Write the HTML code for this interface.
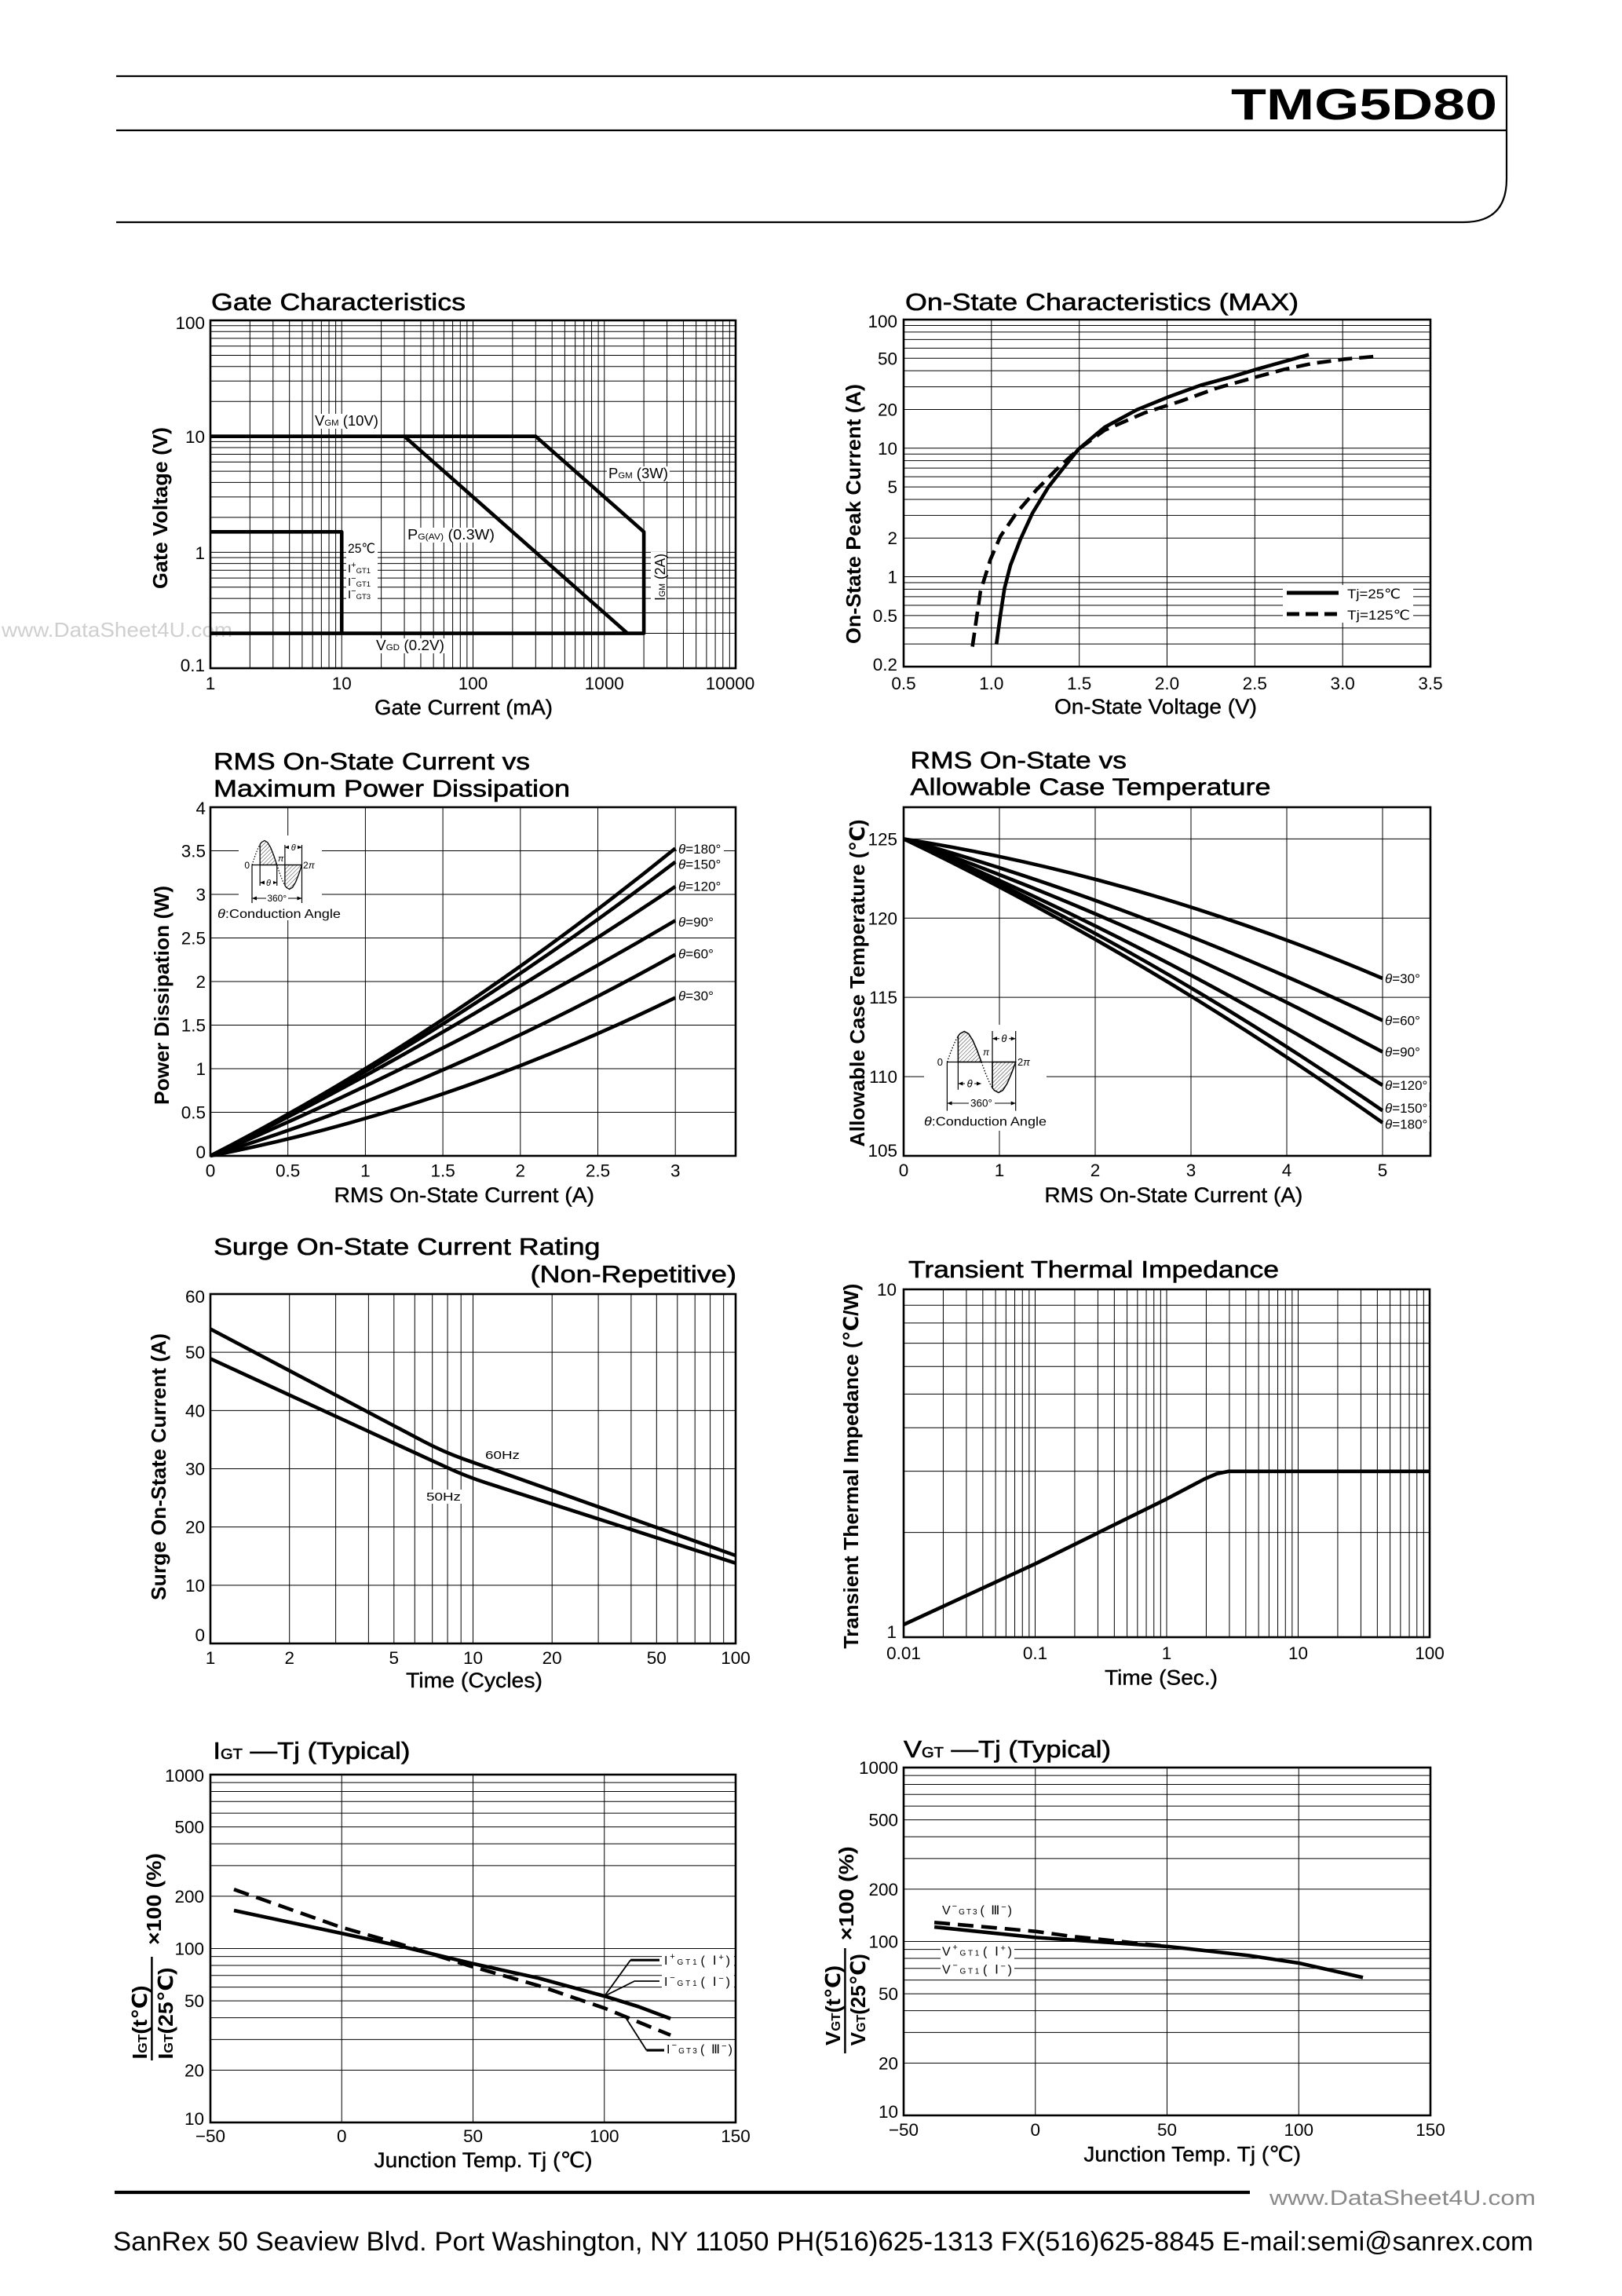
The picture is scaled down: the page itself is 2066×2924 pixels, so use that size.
<!DOCTYPE html>
<html><head><meta charset="utf-8"><style>
html,body{margin:0;padding:0;background:#fff}
svg{display:block}
text{font-family:"Liberation Sans","DejaVu Sans","Noto Sans CJK JP",sans-serif;fill:#000}
.tk{font-size:22.5px}
.ttl{font-size:31px;stroke:#000;stroke-width:.6}
.ax{font-size:27px;stroke:#000;stroke-width:.4}
.ay{font-size:26px;font-weight:bold}
.lb{font-size:17px}
.sm{font-size:15px}
.g{stroke:#000;stroke-width:1;fill:none}
.bx{stroke:#000;stroke-width:2.6;fill:none}
.c{stroke:#000;stroke-width:4.6;fill:none;stroke-linejoin:round}
.t1{stroke:#000;stroke-width:1.2;fill:none}
.wb{fill:#fff}
</style></head><body>
<svg width="2066" height="2924" viewBox="0 0 2066 2924" xmlns="http://www.w3.org/2000/svg">
<defs>
<pattern id="hatch" patternUnits="userSpaceOnUse" width="3.5" height="3.5" patternTransform="rotate(45)"><line x1="0" y1="0" x2="0" y2="3.5" stroke="#000" stroke-width="0.8"/></pattern>
<marker id="ar" markerWidth="6" markerHeight="6" refX="5.5" refY="3" orient="auto-start-reverse" markerUnits="userSpaceOnUse"><path d="M0,0.5 L6,3 L0,5.5 z" fill="#000"/></marker>
</defs>
<rect width="2066" height="2924" fill="#fff"/>

<!-- HEADER -->
<path d="M148 97H1919V228Q1919 283 1864 283H148" fill="none" stroke="#000" stroke-width="2.2"/>
<path d="M148 166H1919" stroke="#000" stroke-width="2.2"/>
<text x="1568" y="152" font-size="56" font-weight="bold" textLength="339" lengthAdjust="spacingAndGlyphs">TMG5D80</text>

<!-- left watermark -->
<text x="2" y="811" font-size="26" fill="#cfcfcf" style="fill:#cfcfcf" textLength="294" lengthAdjust="spacingAndGlyphs">www.DataSheet4U.com</text>

<!-- ================= CHART 1: GATE ================= -->
<text class="ttl" x="269" y="395" textLength="324" lengthAdjust="spacingAndGlyphs">Gate Characteristics</text>
<path class="g" d="M318.35 408V851M347.8 408V851M368.69 408V851M384.9 408V851M398.15 408V851M409.34 408V851M419.04 408V851M427.6 408V851M435.25 408V851M485.6 408V851M515.05 408V851M535.94 408V851M552.15 408V851M565.4 408V851M576.59 408V851M586.29 408V851M594.85 408V851M602.5 408V851M652.85 408V851M682.3 408V851M703.19 408V851M719.4 408V851M732.65 408V851M743.84 408V851M753.54 408V851M762.1 408V851M769.75 408V851M820.1 408V851M849.55 408V851M870.44 408V851M886.65 408V851M899.9 408V851M911.09 408V851M920.79 408V851M929.35 408V851"/>
<path class="g" d="M268 806.55H937M268 780.55H937M268 762.1H937M268 747.79H937M268 736.09H937M268 726.21H937M268 717.64H937M268 710.09H937M268 703.33H937M268 658.88H937M268 632.88H937M268 614.43H937M268 600.12H937M268 588.43H937M268 578.54H937M268 569.98H937M268 562.42H937M268 555.67H937M268 511.22H937M268 485.21H937M268 466.76H937M268 452.45H937M268 440.76H937M268 430.87H937M268 422.31H937M268 414.76H937"/>
<rect class="bx" x="268" y="408" width="669" height="443"/>
<path class="c" stroke-width="5" d="M268 555.67H682.3L820.1 677.33V806.55H268"/>
<path class="c" stroke-width="5" d="M515.05 555.67L799.2 806.55"/>
<path class="c" stroke-width="5" d="M268 677.33H435.25V806.55"/>
<rect class="wb" x="399" y="527" width="86" height="19"/>
<text x="401" y="542" font-size="18" textLength="81" lengthAdjust="spacingAndGlyphs">V<tspan font-size="11">GM</tspan> (10V)</text>
<rect class="wb" x="773" y="594" width="80" height="19"/>
<text x="775" y="609" font-size="18" textLength="76" lengthAdjust="spacingAndGlyphs">P<tspan font-size="11">GM</tspan> (3W)</text>
<rect class="wb" x="517" y="672" width="115" height="19"/>
<text x="519" y="687" font-size="18" textLength="111" lengthAdjust="spacingAndGlyphs">P<tspan font-size="11">G(AV)</tspan> (0.3W)</text>
<rect class="wb" x="441" y="688" width="40" height="79"/>
<text x="443" y="704" font-size="17" textLength="35" lengthAdjust="spacingAndGlyphs">25℃</text>
<text x="443" y="729" font-size="15">I<tspan font-size="11" dy="-6">+</tspan><tspan font-size="9.5" dy="7">GT1</tspan></text>
<text x="443" y="746" font-size="15">I<tspan font-size="11" dy="-6">−</tspan><tspan font-size="9.5" dy="7">GT1</tspan></text>
<text x="443" y="762" font-size="15">I<tspan font-size="11" dy="-6">−</tspan><tspan font-size="9.5" dy="7">GT3</tspan></text>
<rect class="wb" x="829" y="703" width="20" height="64"/>
<text transform="translate(847,765) rotate(-90)" font-size="18" textLength="60" lengthAdjust="spacingAndGlyphs">I<tspan font-size="11">GM</tspan> (2A)</text>
<rect class="wb" x="477" y="813" width="91" height="19"/>
<text x="479" y="828" font-size="18" textLength="87" lengthAdjust="spacingAndGlyphs">V<tspan font-size="11">GD</tspan> (0.2V)</text>
<g class="tk" text-anchor="end"><text x="261" y="419">100</text><text x="261" y="564">10</text><text x="261" y="712">1</text><text x="261" y="855">0.1</text></g>
<g class="tk" text-anchor="middle"><text x="268" y="878">1</text><text x="435.25" y="878">10</text><text x="602.5" y="878">100</text><text x="769.75" y="878">1000</text><text x="930" y="878">10000</text></g>
<text class="ax" x="477" y="910" textLength="227" lengthAdjust="spacingAndGlyphs">Gate Current (mA)</text>
<text class="ay" transform="translate(213,750) rotate(-90)" textLength="206" lengthAdjust="spacingAndGlyphs">Gate Voltage (V)</text>

<!-- ================= CHART 2: ON-STATE ================= -->
<text class="ttl" x="1153" y="395" textLength="501" lengthAdjust="spacingAndGlyphs">On-State Characteristics (MAX)</text>
<path class="g" d="M1262.8 407V849M1374.7 407V849M1486.5 407V849M1598.3 407V849M1710.2 407V849"/>
<path class="g" d="M1151 820.16H1822M1151 799.7H1822M1151 783.83H1822M1151 770.87H1822M1151 759.9H1822M1151 750.41H1822M1151 742.03H1822M1151 734.54H1822M1151 685.24H1822M1151 656.4H1822M1151 635.94H1822M1151 620.07H1822M1151 607.11H1822M1151 596.14H1822M1151 586.65H1822M1151 578.27H1822M1151 570.78H1822M1151 521.48H1822M1151 492.64H1822M1151 472.18H1822M1151 456.31H1822M1151 443.35H1822M1151 432.38H1822M1151 422.89H1822M1151 414.51H1822"/>
<rect class="bx" x="1151" y="407" width="671" height="442"/>
<path class="c" d="M1269.2 820.6L1274 785L1279.4 749.6L1287 720L1299.8 686.7L1315.1 653.4L1335.5 620.1L1355.9 594.2L1373.8 572L1406.9 544.2L1447.8 522L1488.6 505.4L1529.4 490.6L1570.2 479.5L1600.8 470.2L1636.5 460.2L1667.1 451.7"/>
<path class="c" stroke-dasharray="18 9" d="M1238.6 823.5L1248.8 753.3L1261.5 712.6L1274.3 683L1294.7 653.4L1320.2 623.8L1345.7 597.9L1373.8 572L1406.9 547.9L1458 525.7L1503.9 510.9L1549.8 494.3L1595.7 481.3L1636.5 470.2L1672.2 462.8L1713.1 457.3L1756.4 453.6"/>
<rect class="wb" x="1634" y="745" width="166" height="48"/>
<path d="M1639 755H1705" stroke="#000" stroke-width="5"/>
<path d="M1639 782H1705" stroke="#000" stroke-width="5" stroke-dasharray="16 8"/>
<text x="1716" y="762" font-size="17" textLength="68" lengthAdjust="spacingAndGlyphs">Tj=25℃</text>
<text x="1716" y="789" font-size="17" textLength="80" lengthAdjust="spacingAndGlyphs">Tj=125℃</text>
<g class="tk" text-anchor="end"><text x="1143" y="417">100</text><text x="1143" y="464.3">50</text><text x="1143" y="529.5">20</text><text x="1143" y="578.8">10</text><text x="1143" y="628.1">5</text><text x="1143" y="693.2">2</text><text x="1143" y="742.5">1</text><text x="1143" y="791.8">0.5</text><text x="1143" y="854">0.2</text></g>
<g class="tk" text-anchor="middle"><text x="1151" y="878">0.5</text><text x="1262.8" y="878">1.0</text><text x="1374.7" y="878">1.5</text><text x="1486.5" y="878">2.0</text><text x="1598.3" y="878">2.5</text><text x="1710.2" y="878">3.0</text><text x="1822" y="878">3.5</text></g>
<text class="ax" x="1343" y="909" textLength="258" lengthAdjust="spacingAndGlyphs">On-State Voltage (V)</text>
<text class="ay" transform="translate(1096,820) rotate(-90)" textLength="331" lengthAdjust="spacingAndGlyphs">On-State Peak Current (A)</text>

<!-- ================= CHART 3: RMS POWER ================= -->
<text class="ttl" x="272" y="980" textLength="403" lengthAdjust="spacingAndGlyphs">RMS On-State Current vs</text>
<text class="ttl" x="272" y="1014.6" textLength="454" lengthAdjust="spacingAndGlyphs">Maximum Power Dissipation</text>
<path class="g" d="M366.7 1028V1472M465.4 1028V1472M564.1 1028V1472M662.8 1028V1472M761.5 1028V1472M860.2 1028V1472"/>
<path class="g" d="M268 1416.5H937M268 1361H937M268 1305.5H937M268 1250H937M268 1194.5H937M268 1139H937M268 1083.5H937"/>
<rect class="bx" x="268" y="1028" width="669" height="444"/>
<rect class="wb" x="304" y="1064" width="106" height="108"/>
<path class="c" d="M268 1472Q564.1 1320.15 860.2 1080.39"/>
<path class="c" d="M268 1472Q564.1 1323.32 860.2 1097.71"/>
<path class="c" d="M268 1472Q564.1 1327.98 860.2 1129.01"/>
<path class="c" d="M268 1472Q564.1 1347.13 860.2 1172.3"/>
<path class="c" d="M268 1472Q564.1 1381.26 860.2 1215.59"/>
<path class="c" d="M268 1472Q564.1 1414.97 860.2 1270.54"/>
<g class="lb">
<rect class="wb" x="862" y="1072" width="60" height="18"/><text x="864" y="1087"><tspan font-style="italic">θ</tspan>=180°</text>
<rect class="wb" x="862" y="1092" width="60" height="18"/><text x="864" y="1106.5"><tspan font-style="italic">θ</tspan>=150°</text>
<rect class="wb" x="862" y="1120" width="60" height="18"/><text x="864" y="1134.5"><tspan font-style="italic">θ</tspan>=120°</text>
<rect class="wb" x="862" y="1166" width="52" height="18"/><text x="864" y="1180"><tspan font-style="italic">θ</tspan>=90°</text>
<rect class="wb" x="862" y="1206" width="52" height="18"/><text x="864" y="1220.5"><tspan font-style="italic">θ</tspan>=60°</text>
<rect class="wb" x="862" y="1260" width="52" height="18"/><text x="864" y="1274"><tspan font-style="italic">θ</tspan>=30°</text>
</g>
<!-- inset diagram -->
<path d="M331.16 1101.5L331.16 1075.33L332.91 1072.86L336.88 1070.5L340.84 1072.86L344.81 1079.58L348.78 1089.64L352.75 1101.5Z" fill="url(#hatch)" stroke="#000" stroke-width="1.3"/>
<path d="M362.91 1101.5L362.91 1127.67L364.66 1130.14L368.63 1132.5L372.59 1130.14L376.56 1123.42L380.53 1113.36L384.5 1101.5Z" fill="url(#hatch)" stroke="#000" stroke-width="1.3"/>
<path d="M321 1101.5L324.97 1089.64L328.94 1079.58L331.16 1075.33M352.75 1101.5L356.72 1113.36L360.69 1123.42L362.91 1127.67" fill="none" stroke="#000" stroke-width="1.2" stroke-dasharray="1.5 2"/>
<path class="t1" d="M321 1101.5H384.5M321 1101.5V1150M384.5 1076V1150M362.91 1076V1101.5M331.16 1101.5V1128M352.75 1101.5V1128"/>
<path d="M363 1079H384" stroke="#000" stroke-width="1" marker-start="url(#ar)" marker-end="url(#ar)"/>
<path d="M331.5 1124H352.5" stroke="#000" stroke-width="1" marker-start="url(#ar)" marker-end="url(#ar)"/>
<path d="M321.5 1144H384" stroke="#000" stroke-width="1" marker-start="url(#ar)" marker-end="url(#ar)"/>
<rect class="wb" x="368" y="1073" width="11" height="12"/><text x="373.7" y="1083" font-size="11" font-style="italic" text-anchor="middle">θ</text>
<rect class="wb" x="337" y="1118" width="11" height="12"/><text x="342" y="1128" font-size="11" font-style="italic" text-anchor="middle">θ</text>
<rect class="wb" x="339" y="1138" width="28" height="12"/><text x="352.75" y="1148" font-size="12" text-anchor="middle">360°</text>
<text x="318" y="1106" font-size="12" text-anchor="end">0</text>
<text x="354" y="1097" font-size="11" font-style="italic">π</text>
<text x="386" y="1106" font-size="12">2<tspan font-style="italic">π</tspan></text>
<text x="277" y="1169" font-size="16" textLength="157" lengthAdjust="spacingAndGlyphs"><tspan font-style="italic">θ</tspan>:Conduction Angle</text>
<g class="tk" text-anchor="end"><text x="262" y="1037">4</text><text x="262" y="1091.5">3.5</text><text x="262" y="1147">3</text><text x="262" y="1202.5">2.5</text><text x="262" y="1258">2</text><text x="262" y="1313.5">1.5</text><text x="262" y="1369">1</text><text x="262" y="1424.5">0.5</text><text x="262" y="1475">0</text></g>
<g class="tk" text-anchor="middle"><text x="268" y="1498.5">0</text><text x="366.7" y="1498.5">0.5</text><text x="465.4" y="1498.5">1</text><text x="564.1" y="1498.5">1.5</text><text x="662.8" y="1498.5">2</text><text x="761.5" y="1498.5">2.5</text><text x="860.2" y="1498.5">3</text></g>
<text class="ax" x="425.5" y="1531" textLength="331.5" lengthAdjust="spacingAndGlyphs">RMS On-State Current (A)</text>
<text class="ay" transform="translate(215,1407) rotate(-90)" textLength="279" lengthAdjust="spacingAndGlyphs">Power Dissipation (W)</text>

<!-- ================= CHART 4: CASE TEMP ================= -->
<text class="ttl" x="1159.5" y="978.3" textLength="275.5" lengthAdjust="spacingAndGlyphs">RMS On-State vs</text>
<text class="ttl" x="1159.5" y="1012.7" textLength="459" lengthAdjust="spacingAndGlyphs">Allowable Case Temperature</text>
<path class="g" d="M1273 1028V1472M1395 1028V1472M1517 1028V1472M1639 1028V1472M1761 1028V1472"/>
<path class="g" d="M1151 1371.09H1822M1151 1270.18H1822M1151 1169.27H1822M1151 1068.36H1822"/>
<rect class="bx" x="1151" y="1028" width="671" height="444"/>
<rect class="wb" x="1177" y="1305" width="156" height="135"/>
<path class="c" d="M1151 1068.36Q1456 1116.29 1761 1245.96"/>
<path class="c" d="M1151 1068.36Q1456 1154.44 1761 1299.54"/>
<path class="c" d="M1151 1068.36Q1456 1176.74 1761 1339.6"/>
<path class="c" d="M1151 1068.36Q1456 1194.65 1761 1381.99"/>
<path class="c" d="M1151 1068.36Q1456 1204.03 1761 1414.38"/>
<path class="c" d="M1151 1068.36Q1456 1214.48 1761 1429.72"/>
<g class="lb">
<rect class="wb" x="1763" y="1238" width="52" height="18"/><text x="1764" y="1252"><tspan font-style="italic">θ</tspan>=30°</text>
<rect class="wb" x="1763" y="1291" width="52" height="18"/><text x="1764" y="1305.5"><tspan font-style="italic">θ</tspan>=60°</text>
<rect class="wb" x="1763" y="1331" width="52" height="18"/><text x="1764" y="1345.6"><tspan font-style="italic">θ</tspan>=90°</text>
<rect class="wb" x="1763" y="1373" width="58" height="18"/><text x="1764" y="1387.8"><tspan font-style="italic">θ</tspan>=120°</text>
<rect class="wb" x="1763" y="1403" width="58" height="18"/><text x="1764" y="1417.2"><tspan font-style="italic">θ</tspan>=150°</text>
<rect class="wb" x="1763" y="1423" width="58" height="18"/><text x="1764" y="1437.5"><tspan font-style="italic">θ</tspan>=180°</text>
</g>
<!-- inset diagram -->
<path d="M1220.37 1352.5L1220.37 1319.57L1222.77 1316.47L1228.23 1313.5L1233.68 1316.47L1239.14 1324.92L1244.59 1337.57L1250.05 1352.5Z" fill="url(#hatch)" stroke="#000" stroke-width="1.5"/>
<path d="M1264.02 1352.5L1264.02 1385.43L1266.42 1388.53L1271.88 1391.5L1277.33 1388.53L1282.79 1380.08L1288.24 1367.43L1293.7 1352.5Z" fill="url(#hatch)" stroke="#000" stroke-width="1.5"/>
<path d="M1206.4 1352.5L1211.86 1337.57L1217.31 1324.92L1220.37 1319.57M1250.05 1352.5L1255.51 1367.43L1260.96 1380.08L1264.02 1385.43" fill="none" stroke="#000" stroke-width="1.4" stroke-dasharray="1.5 2.2"/>
<path class="t1" d="M1206.4 1352.5H1293.7M1206.4 1352.5V1414.6M1293.7 1313V1414.6M1264.02 1313V1386M1220.37 1352.5V1387.7"/>
<path d="M1264.5 1322.7H1293.2" stroke="#000" stroke-width="1" marker-start="url(#ar)" marker-end="url(#ar)"/>
<path d="M1220.9 1380H1249.5" stroke="#000" stroke-width="1" marker-start="url(#ar)" marker-end="url(#ar)"/>
<path d="M1207 1405H1293.2" stroke="#000" stroke-width="1" marker-start="url(#ar)" marker-end="url(#ar)"/>
<rect class="wb" x="1273" y="1315" width="12" height="14"/><text x="1278.9" y="1327" font-size="13" font-style="italic" text-anchor="middle">θ</text>
<rect class="wb" x="1229" y="1373" width="12" height="14"/><text x="1235.2" y="1384.5" font-size="13" font-style="italic" text-anchor="middle">θ</text>
<rect class="wb" x="1234" y="1397" width="33" height="15"/><text x="1250" y="1409.5" font-size="13.5" text-anchor="middle">360°</text>
<text x="1201" y="1357" font-size="13" text-anchor="end">0</text>
<text x="1252" y="1344" font-size="12" font-style="italic">π</text>
<text x="1296" y="1357" font-size="13">2<tspan font-style="italic">π</tspan></text>
<text x="1177" y="1433.7" font-size="16" textLength="156" lengthAdjust="spacingAndGlyphs"><tspan font-style="italic">θ</tspan>:Conduction Angle</text>
<g class="tk" text-anchor="end"><text x="1143" y="1076.4">125</text><text x="1143" y="1177.3">120</text><text x="1143" y="1278.2">115</text><text x="1143" y="1379.1">110</text><text x="1143" y="1473">105</text></g>
<g class="tk" text-anchor="middle"><text x="1151" y="1498">0</text><text x="1273" y="1498">1</text><text x="1395" y="1498">2</text><text x="1517" y="1498">3</text><text x="1639" y="1498">4</text><text x="1761" y="1498">5</text></g>
<text class="ax" x="1330.4" y="1531" textLength="329" lengthAdjust="spacingAndGlyphs">RMS On-State Current (A)</text>
<text class="ay" transform="translate(1101,1460.5) rotate(-90)" textLength="417" lengthAdjust="spacingAndGlyphs">Allowable Case Temperature (℃)</text>

<!-- ================= CHART 5: SURGE ================= -->
<text class="ttl" x="272" y="1598" textLength="492.5" lengthAdjust="spacingAndGlyphs">Surge On-State Current Rating</text>
<text class="ttl" x="675.5" y="1633" textLength="262.5" lengthAdjust="spacingAndGlyphs">(Non-Repetitive)</text>
<path class="g" d="M368.7 1648V2093M427.6 1648V2093M469.39 1648V2093M501.81 1648V2093M528.29 1648V2093M550.69 1648V2093M570.08 1648V2093M587.19 1648V2093M602.5 1648V2093M703.2 1648V2093M762.1 1648V2093M803.89 1648V2093M836.31 1648V2093M862.79 1648V2093M885.19 1648V2093M904.58 1648V2093M921.69 1648V2093"/>
<path class="g" d="M268 2018.83H937M268 1944.67H937M268 1870.5H937M268 1796.33H937M268 1722.17H937"/>
<rect class="bx" x="268" y="1648" width="669" height="445"/>
<path class="c" d="M268 1692.5L540 1835.9Q564.5 1848.8 590 1857.9L937 1981"/>
<path class="c" d="M268 1730.3L570 1869.2Q595 1880.7 620 1888.7L937 1990.7"/>
<rect class="wb" x="616" y="1844" width="48" height="18"/>
<text x="618" y="1858" class="sm" textLength="44" lengthAdjust="spacingAndGlyphs">60Hz</text>
<rect class="wb" x="541" y="1897" width="48" height="18"/>
<text x="543" y="1911" class="sm" textLength="44" lengthAdjust="spacingAndGlyphs">50Hz</text>
<g class="tk" text-anchor="end"><text x="261" y="1659">60</text><text x="261" y="1730.2">50</text><text x="261" y="1804.3">40</text><text x="261" y="1878.5">30</text><text x="261" y="1952.7">20</text><text x="261" y="2026.8">10</text><text x="261" y="2090">0</text></g>
<g class="tk" text-anchor="middle"><text x="268" y="2119">1</text><text x="368.7" y="2119">2</text><text x="501.8" y="2119">5</text><text x="602.5" y="2119">10</text><text x="703.2" y="2119">20</text><text x="836.3" y="2119">50</text><text x="937" y="2119">100</text></g>
<text class="ax" x="517" y="2149" textLength="174" lengthAdjust="spacingAndGlyphs">Time (Cycles)</text>
<text class="ay" transform="translate(211,2038) rotate(-90)" textLength="340" lengthAdjust="spacingAndGlyphs">Surge On-State Current (A)</text>

<!-- ================= CHART 6: TRANSIENT ================= -->
<text class="ttl" x="1157" y="1627" textLength="472" lengthAdjust="spacingAndGlyphs">Transient Thermal Impedance</text>
<path class="g" d="M1201.42 1642V2085M1230.92 1642V2085M1251.85 1642V2085M1268.08 1642V2085M1281.34 1642V2085M1292.55 1642V2085M1302.27 1642V2085M1310.84 1642V2085M1318.5 1642V2085M1368.92 1642V2085M1398.42 1642V2085M1419.35 1642V2085M1435.58 1642V2085M1448.84 1642V2085M1460.05 1642V2085M1469.77 1642V2085M1478.34 1642V2085M1486 1642V2085M1536.42 1642V2085M1565.92 1642V2085M1586.85 1642V2085M1603.08 1642V2085M1616.34 1642V2085M1627.55 1642V2085M1637.27 1642V2085M1645.84 1642V2085M1653.5 1642V2085M1703.92 1642V2085M1733.42 1642V2085M1754.35 1642V2085M1770.58 1642V2085M1783.84 1642V2085M1795.05 1642V2085M1804.77 1642V2085M1813.34 1642V2085"/>
<path class="g" d="M1151 1951.64H1821M1151 1873.64H1821M1151 1818.29H1821M1151 1775.36H1821M1151 1740.28H1821M1151 1710.62H1821M1151 1684.93H1821M1151 1662.27H1821"/>
<rect class="bx" x="1151" y="1642" width="670" height="443"/>
<path class="c" stroke-width="5" d="M1151 2069L1318.7 1991.5L1483.5 1910.2L1509 1896.8L1534.5 1883.4L1549.8 1876.9L1565.1 1873.8L1821 1873.8"/>
<g class="tk" text-anchor="end"><text x="1142" y="1650">10</text><text x="1142" y="2086">1</text></g>
<g class="tk" text-anchor="middle"><text x="1151" y="2113">0.01</text><text x="1318.5" y="2113">0.1</text><text x="1486" y="2113">1</text><text x="1653.5" y="2113">10</text><text x="1821" y="2113">100</text></g>
<text class="ax" x="1407" y="2145.5" textLength="144" lengthAdjust="spacingAndGlyphs">Time (Sec.)</text>
<text class="ay" transform="translate(1093,2099.6) rotate(-90)" textLength="465" lengthAdjust="spacingAndGlyphs">Transient Thermal Impedance (℃/W)</text>

<!-- ================= CHART 7: IGT ================= -->
<text class="ttl" x="271.4" y="2240" textLength="251" lengthAdjust="spacingAndGlyphs">I<tspan font-size="18">GT</tspan> —Tj (Typical)</text>
<path class="g" d="M435.25 2260V2703M602.5 2260V2703M769.75 2260V2703"/>
<path class="g" d="M268 2636.32H937M268 2597.32H937M268 2569.64H937M268 2548.18H937M268 2530.64H937M268 2515.81H937M268 2502.97H937M268 2491.64H937M268 2481.5H937M268 2414.82H937M268 2375.82H937M268 2348.14H937M268 2326.68H937M268 2309.14H937M268 2294.31H937M268 2281.47H937M268 2270.14H937"/>
<rect class="bx" x="268" y="2260" width="669" height="443"/>
<path class="c" d="M298 2433L433.2 2461.7L507.1 2477.8L599 2500L685.7 2519.1L769.9 2542.1L813.3 2555.5L854.1 2570.8"/>
<path class="c" stroke-dasharray="20 10" d="M298 2406.2L433.2 2454L507.1 2475.1L599 2503.8L685.7 2528.7L769.9 2557.4L854.1 2591.8"/>
<path d="M769.9 2542.1L803.1 2496.2M769.9 2542.1L808.2 2523H840M795.4 2567L823.5 2611" stroke="#000" stroke-width="1.8" fill="none"/>
<path d="M803.1 2496.2H840M823.5 2611H846" stroke="#000" stroke-width="3.2" fill="none"/>
<rect class="wb" x="843" y="2484" width="92" height="22"/>
<rect class="wb" x="843" y="2512" width="92" height="22"/>
<rect class="wb" x="847" y="2598" width="88" height="22"/>
<text x="846" y="2502" font-size="16" textLength="84" lengthAdjust="spacing">I<tspan font-size="11" dy="-7">+</tspan><tspan font-size="10" dy="7">GT1</tspan><tspan dx="2">( Ⅰ</tspan><tspan font-size="11" dy="-6">+</tspan><tspan dy="6">)</tspan></text>
<text x="846" y="2529" font-size="16" textLength="84" lengthAdjust="spacing">I<tspan font-size="11" dy="-7">−</tspan><tspan font-size="10" dy="7">GT1</tspan><tspan dx="2">( Ⅰ</tspan><tspan font-size="11" dy="-6">−</tspan><tspan dy="6">)</tspan></text>
<text x="849" y="2615" font-size="16" textLength="84" lengthAdjust="spacing">I<tspan font-size="11" dy="-7">−</tspan><tspan font-size="10" dy="7">GT3</tspan><tspan dx="2">( Ⅲ</tspan><tspan font-size="11" dy="-6">−</tspan><tspan dy="6">)</tspan></text>
<g class="tk" text-anchor="end"><text x="260" y="2269">1000</text><text x="260" y="2334.7">500</text><text x="260" y="2422.8">200</text><text x="260" y="2489.5">100</text><text x="260" y="2556.2">50</text><text x="260" y="2644.3">20</text><text x="260" y="2706">10</text></g>
<g class="tk" text-anchor="middle"><text x="268" y="2728">−50</text><text x="435.25" y="2728">0</text><text x="602.5" y="2728">50</text><text x="769.75" y="2728">100</text><text x="937" y="2728">150</text></g>
<text class="ax" x="476.5" y="2760" textLength="278" lengthAdjust="spacingAndGlyphs">Junction Temp. Tj (℃)</text>
<text class="ay" transform="translate(187,2622.5) rotate(-90)" textLength="94" lengthAdjust="spacingAndGlyphs">I<tspan font-size="16">GT</tspan>(t℃)</text>
<path d="M193.4 2492V2624" stroke="#000" stroke-width="2.5"/>
<text class="ay" transform="translate(220,2622.5) rotate(-90)" textLength="117" lengthAdjust="spacingAndGlyphs">I<tspan font-size="16">GT</tspan>(25℃)</text>
<text class="ay" transform="translate(205,2477) rotate(-90)" textLength="117" lengthAdjust="spacingAndGlyphs">×100 (%)</text>

<!-- ================= CHART 8: VGT ================= -->
<text class="ttl" x="1151" y="2238" textLength="264" lengthAdjust="spacingAndGlyphs">V<tspan font-size="18">GT</tspan> —Tj (Typical)</text>
<path class="g" d="M1318.75 2251V2694M1486.5 2251V2694M1654.25 2251V2694"/>
<path class="g" d="M1151 2627.32H1822M1151 2588.32H1822M1151 2560.64H1822M1151 2539.18H1822M1151 2521.64H1822M1151 2506.81H1822M1151 2493.97H1822M1151 2482.64H1822M1151 2472.5H1822M1151 2405.82H1822M1151 2366.82H1822M1151 2339.14H1822M1151 2317.68H1822M1151 2300.14H1822M1151 2285.31H1822M1151 2272.47H1822M1151 2261.14H1822"/>
<rect class="bx" x="1151" y="2251" width="671" height="443"/>
<path class="c" d="M1190.1 2454.1L1320.2 2467.5L1487.6 2478.9L1590.6 2490.4L1654.4 2500L1736 2518.4"/>
<path class="c" stroke-dasharray="20 10" d="M1190.1 2448.3L1320.2 2459.8L1361 2465.5L1487.6 2478.9"/>
<rect class="wb" x="1198" y="2422" width="94" height="21"/>
<rect class="wb" x="1198" y="2474" width="94" height="21"/>
<rect class="wb" x="1198" y="2498" width="94" height="20"/>
<text x="1200" y="2438" font-size="16" textLength="89" lengthAdjust="spacing">V<tspan font-size="11" dy="-7">−</tspan><tspan font-size="10" dy="7">GT3</tspan><tspan dx="2">( Ⅲ</tspan><tspan font-size="11" dy="-6">−</tspan><tspan dy="6">)</tspan></text>
<text x="1200" y="2490.4" font-size="16" textLength="89" lengthAdjust="spacing">V<tspan font-size="11" dy="-7">+</tspan><tspan font-size="10" dy="7">GT1</tspan><tspan dx="2">( Ⅰ</tspan><tspan font-size="11" dy="-6">+</tspan><tspan dy="6">)</tspan></text>
<text x="1200" y="2513.4" font-size="16" textLength="89" lengthAdjust="spacing">V<tspan font-size="11" dy="-7">−</tspan><tspan font-size="10" dy="7">GT1</tspan><tspan dx="2">( Ⅰ</tspan><tspan font-size="11" dy="-6">−</tspan><tspan dy="6">)</tspan></text>
<g class="tk" text-anchor="end"><text x="1144" y="2259">1000</text><text x="1144" y="2325.7">500</text><text x="1144" y="2413.8">200</text><text x="1144" y="2480.5">100</text><text x="1144" y="2547.2">50</text><text x="1144" y="2635.3">20</text><text x="1144" y="2697">10</text></g>
<g class="tk" text-anchor="middle"><text x="1151" y="2720">−50</text><text x="1318.75" y="2720">0</text><text x="1486.5" y="2720">50</text><text x="1654.25" y="2720">100</text><text x="1822" y="2720">150</text></g>
<text class="ax" x="1380.4" y="2752.6" textLength="276.6" lengthAdjust="spacingAndGlyphs">Junction Temp. Tj (℃)</text>
<text class="ay" transform="translate(1070,2605) rotate(-90)" textLength="102" lengthAdjust="spacingAndGlyphs">V<tspan font-size="16">GT</tspan>(t℃)</text>
<path d="M1076.4 2481V2615" stroke="#000" stroke-width="2.5"/>
<text class="ay" transform="translate(1102,2605.2) rotate(-90)" textLength="117" lengthAdjust="spacingAndGlyphs">V<tspan font-size="16">GT</tspan>(25℃)</text>
<text class="ay" transform="translate(1087,2471.3) rotate(-90)" textLength="120" lengthAdjust="spacingAndGlyphs">×100 (%)</text>

<!-- FOOTER -->
<path d="M146 2792H1592" stroke="#000" stroke-width="4.2"/>
<text x="1617" y="2808" font-size="27" style="fill:#8a8a8a" textLength="339" lengthAdjust="spacingAndGlyphs">www.DataSheet4U.com</text>
<text x="144" y="2866" font-size="34" textLength="1809" lengthAdjust="spacingAndGlyphs">SanRex 50 Seaview Blvd. Port Washington, NY 11050 PH(516)625-1313 FX(516)625-8845 E-mail:semi@sanrex.com</text>
</svg>
</body></html>
